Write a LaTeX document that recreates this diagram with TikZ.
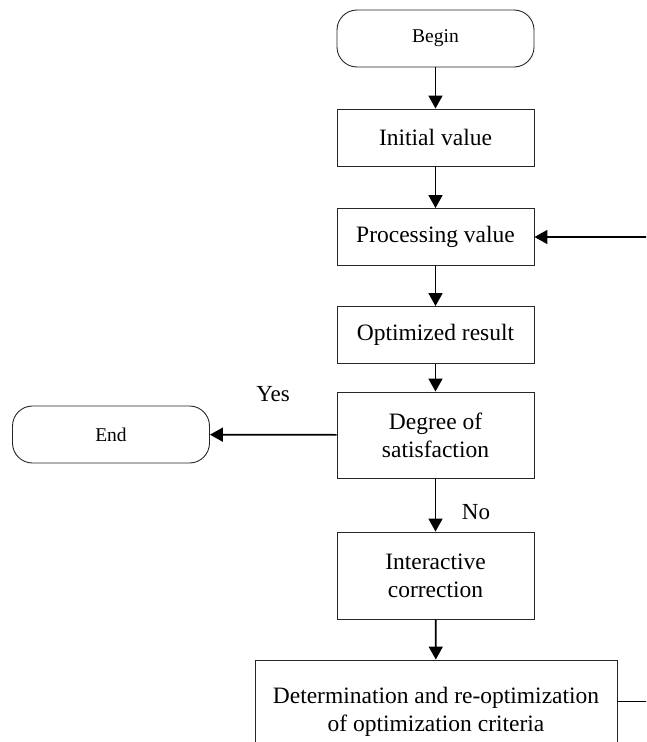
\documentclass[tikz,border=0pt]{standalone}
\usepackage{fontspec}
\setmainfont{Liberation Serif}
\usetikzlibrary{arrows.meta}
\begin{document}
\begin{tikzpicture}[x=1pt,y=-1pt,
  box/.style={draw=black!85, line width=0.9pt, inner sep=0pt, align=center,
    minimum width=197pt, minimum height=57pt, font=\fontsize{23.5}{28.2}\selectfont},
  term/.style={box, rounded corners=20pt, font=\fontsize{19.5}{23}\selectfont},
  arr/.style={line width=1.7pt, -{Triangle[length=13pt,width=14pt]}},
  lab/.style={font=\fontsize{23}{27}\selectfont, inner sep=0pt}]
\useasboundingbox (0,0) rectangle (646,742);
\clip (0,0) rectangle (646,742);
\node[term] (begin) at (435.5,38.5) {Begin};
\node[box] (init) at (435.5,137.5) {Initial value};
\node[box] (proc) at (435.5,237) {Processing value};
\node[box] (opt) at (435.5,335) {Optimized result};
\node[box, minimum height=86pt] (deg) at (435.5,435) {Degree of\\satisfaction};
\node[box, minimum height=87pt] (inter) at (435.5,575.5) {Interactive\\correction};
\node[box, minimum width=362pt, minimum height=104pt] (det) at (436,712) {Determination and re-optimization\\of optimization criteria};
\node[term] (end) at (111,434.5) {End};
\node[lab] (yes) at (273,394) {Yes};
\node[lab] (no) at (476,512) {No};
\coordinate (detout) at ([yshift=-42pt]det.north east);
\coordinate (loop) at ([xshift=60pt]detout);
\draw[arr] (begin) -- (init);
\draw[arr] (init) -- (proc);
\draw[arr] (proc) -- (opt);
\draw[arr] (opt) -- (deg);
\draw[arr] (deg) -- (inter);
\draw[arr] (inter) -- (det);
\draw[arr] (deg) -- (end);
\draw[arr] (detout) -- (loop) |- (proc.east);
\end{tikzpicture}
\end{document}
